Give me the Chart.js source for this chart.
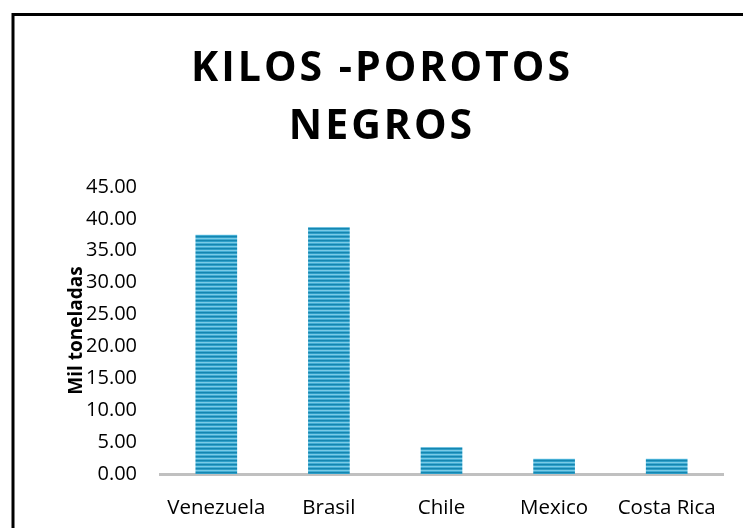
<!DOCTYPE html>
<html>
<head>
<meta charset="utf-8">
<script src="https://cdn.jsdelivr.net/npm/chart.js@4/dist/chart.umd.min.js"></script>
<style>
  html, body { margin: 0; padding: 0; background: #fff; }
  #wrap { width: 743px; height: 528px; position: relative; }
</style>
</head>
<body>
<div id="wrap"><canvas id="chart"></canvas></div>
<script>
const titleLines = ["KILOS -POROTOS", "NEGROS"];
const categories = ["Venezuela", "Brasil", "Chile", "Mexico", "Costa Rica"];
const values = [37.5, 38.7, 4.2, 2.4, 2.4];
const yMin = 0;
const yMax = 45;
const yStep = 5;
const yTitle = "Mil toneladas";

const FONT = "'Open Sans', 'DejaVu Sans', sans-serif";

// horizontal stripes, like the office "narrow horizontal" fill
function stripes() {
  const c = document.createElement("canvas");
  c.width = 8;
  c.height = 4;
  const g = c.getContext("2d");
  const rows = ["#1586b0", "#2f9fc8", "#7acbe6", "#43add4"];
  rows.forEach((col, i) => {
    g.fillStyle = col;
    g.fillRect(0, i, 8, 1);
  });
  return g.createPattern(c, "repeat");
}

const frame = {
  id: "frame",
  afterDraw(chart) {
    const ctx = chart.ctx;
    ctx.save();
    ctx.strokeStyle = "#000";
    ctx.lineWidth = 3;
    ctx.beginPath();
    ctx.moveTo(13, 528);
    ctx.lineTo(13, 14.5);
    ctx.lineTo(743, 14.5);
    ctx.stroke();

    ctx.fillStyle = "#000";
    ctx.font = "bold 41px " + FONT;
    ctx.letterSpacing = "3px";
    ctx.textAlign = "center";
    ctx.textBaseline = "alphabetic";
    titleLines.forEach((line, i) => ctx.fillText(line, 382, 81 + i * 58));
    ctx.restore();
  }
};

new Chart(document.getElementById("chart"), {
  type: "bar",
  data: {
    labels: categories,
    datasets: [{
      data: values,
      backgroundColor: stripes(),
      borderWidth: 0,
      barPercentage: 0.37,
      categoryPercentage: 1
    }]
  },
  options: {
    responsive: true,
    maintainAspectRatio: false,
    animation: false,
    layout: { padding: { left: 61, top: 187, right: 20, bottom: 0 } },
    plugins: { legend: { display: false }, tooltip: { enabled: false }, title: { display: false } },
    scales: {
      x: {
        grid: { display: false, drawTicks: false },
        border: { display: true, color: "#c0c0c0", width: 3 },
        ticks: { color: "#000", padding: 22, font: { family: FONT, size: 20.5 } },
        afterFit(scale) { scale.height = 54; }
      },
      y: {
        min: yMin,
        max: yMax,
        grid: { display: false, drawTicks: false },
        border: { display: false },
        ticks: {
          stepSize: yStep,
          color: "#000",
          padding: 23,
          font: { family: FONT, size: 20 },
          callback: (v) => Number(v).toFixed(2)
        },
        title: {
          display: true,
          text: yTitle,
          color: "#000",
          font: { family: FONT, size: 19, weight: "bold" }
        },
        afterFit(scale) { scale.width = 99; }
      }
    }
  },
  plugins: [frame]
});
</script>
</body>
</html>
